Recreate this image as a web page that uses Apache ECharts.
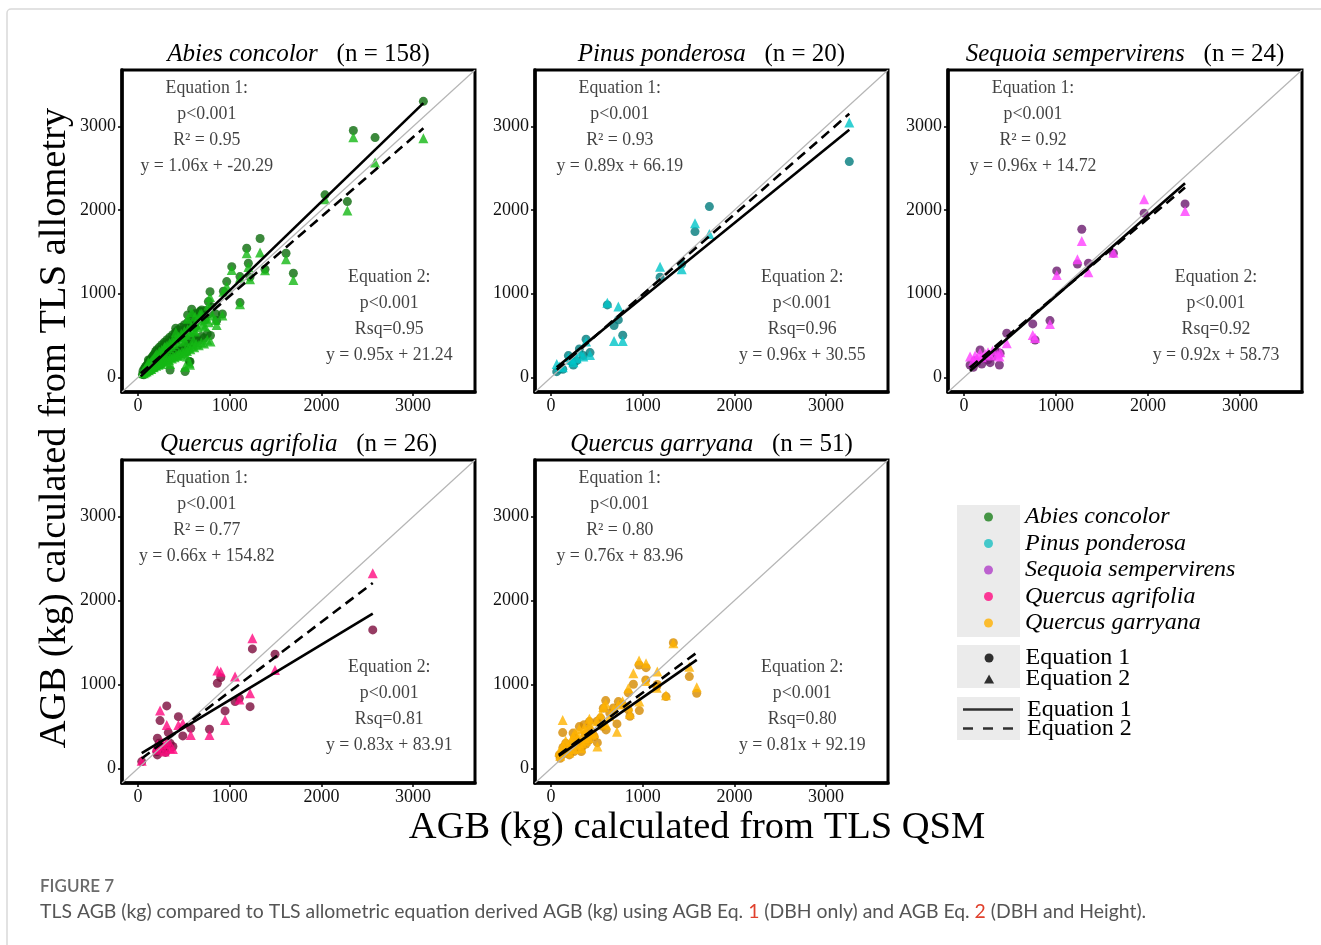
<!DOCTYPE html>
<html>
<head>
<meta charset="utf-8">
<script src="https://cdn.jsdelivr.net/npm/echarts@6/dist/echarts.min.js"></script>
<style>
html, body { margin: 0; padding: 0; background: #fff; }
#chart { width: 1321px; height: 945px; }
</style>
</head>
<body>
<div id="chart"></div>
<script>
// ---- data ----
const speciesNames = ['Abies concolor', 'Pinus ponderosa', 'Sequoia sempervirens', 'Quercus agrifolia', 'Quercus garryana'];
const sampleSizes = [158, 20, 24, 26, 51];
const tickValues = [0, 1000, 2000, 3000];
const axisRange = [-175, 3675];
const identityLine = [[-175, -175], [3675, 3675]];

// per species: QSM AGB (x), Eq.1 AGB (circles), Eq.2 AGB (triangles)
const abiesQsm = [3112, 2348, 2585, 2039, 2283, 1614, 1694, 1331, 1185, 1203, 1385, 1022, 1112, 1221, 967, 785, 931, 1112, 767, 585,
  541, 694, 676, 847, 920, 858, 622, 731, 411, 622, 513, 603, 294, 531, 440, 567, 513, 560, 349, 113,
  48, 55, 63, 71, 78, 84, 92, 97, 105, 112, 118, 126, 131, 139, 144, 152, 158, 165, 171, 178,
  184, 192, 198, 205, 211, 219, 224, 232, 238, 246, 252, 259, 266, 273, 279, 287, 294, 301, 308, 316,
  323, 331, 338, 346, 353, 361, 369, 377, 384, 392, 399, 408, 416, 424, 431, 440, 447, 455, 463, 472,
  480, 489, 497, 506, 515, 524, 533, 542, 552, 561, 571, 580, 591, 602, 613, 625, 637, 650, 662, 676,
  690, 705, 720, 738, 755, 772, 790, 810];
const abiesEq1 = [3300, 2951, 2867, 2182, 2102, 1484, 1245, 1660, 1544, 1365, 1293, 1324, 1205, 1200, 1145, 1025, 1030, 894, 906, 815,
  747, 806, 790, 758, 758, 680, 760, 687, 587, 600, 468, 480, 400, 307, 300, 188, 70, 190, 88, 208,
  35, 80, 30, 110, 50, 130, 60, 150, 85, 175, 70, 200, 100, 215, 90, 240, 120, 260, 110, 280,
  150, 310, 130, 330, 175, 290, 150, 360, 190, 320, 160, 390, 210, 350, 190, 420, 230, 380, 210, 450,
  250, 410, 230, 480, 270, 440, 250, 510, 290, 470, 270, 540, 310, 500, 290, 570, 330, 520, 310, 600,
  350, 560, 330, 630, 380, 590, 360, 660, 400, 620, 380, 700, 430, 650, 410, 730, 460, 690, 440, 780,
  490, 720, 470, 800, 520, 760, 500, 840];
const abiesEq2 = [2860, 2872, 2568, 2130, 1994, 1413, 1165, 1492, 1484, 1320, 1280, 1284, 1190, 1173, 1085, 960, 1025, 873, 860, 780,
  700, 760, 758, 687, 740, 627, 727, 607, 540, 547, 430, 447, 367, 248, 268, 150, 128, 176, 160, 180,
  55, 75, 50, 100, 60, 115, 70, 130, 90, 150, 85, 170, 105, 185, 100, 205, 125, 220, 120, 240,
  150, 265, 140, 280, 170, 250, 150, 310, 185, 280, 160, 330, 200, 300, 180, 360, 215, 320, 195, 380,
  220, 350, 205, 410, 240, 375, 225, 440, 255, 400, 240, 460, 270, 425, 255, 490, 290, 450, 275, 520,
  305, 480, 290, 550, 330, 510, 315, 575, 350, 540, 335, 610, 375, 565, 360, 640, 400, 600, 385, 680,
  420, 630, 405, 700, 450, 660, 430, 740];

const pinusQsm = [3253, 1727, 1570, 1425, 1189, 614, 734, 687, 782, 382, 425, 352, 309, 189, 243, 128, 62, 280, 90, 220];
const pinusEq1 = [2580, 2042, 1743, 1356, 1197, 866, 687, 619, 503, 456, 296, 260, 340, 260, 148, 97, 68, 200, 100, 190];
const pinusEq2 = [3047, 1715, 1843, 1293, 1324, 893, 846, 435, 435, 430, 268, 250, 310, 240, 180, 120, 160, 230, 130, 210];

const sequoiaQsm = [2403, 1958, 1280, 1233, 1352, 1008, 1624, 934, 747, 772, 464, 392, 384, 283, 174, 192, 65, 120, 230, 310, 140, 360, 260, 100];
const sequoiaEq1 = [2074, 1963, 1771, 1356, 1365, 1273, 1484, 679, 639, 447, 527, 288, 148, 176, 328, 160, 148, 200, 230, 250, 180, 300, 210, 120];
const sequoiaEq2 = [1990, 2130, 1631, 1413, 1257, 1225, 1490, 639, 507, 470, 408, 300, 250, 260, 290, 240, 248, 260, 280, 320, 230, 270, 300, 200];

const agrifoliaQsm = [2560, 1247, 1494, 865, 902, 1058, 1105, 1222, 949, 779, 575, 488, 440, 313, 240, 330, 211, 349, 204, 211, 40, 260, 290, 380, 230, 300];
const agrifoliaEq1 = [1650, 1423, 1360, 1014, 1081, 795, 835, 735, 684, 466, 478, 386, 616, 744, 569, 426, 359, 299, 199, 160, 80, 260, 230, 260, 300, 190];
const agrifoliaEq2 = [2325, 1551, 1173, 1165, 1150, 1093, 820, 895, 577, 398, 398, 537, 517, 517, 688, 330, 280, 240, 250, 220, 90, 310, 200, 230, 260, 290];

const garryanaQsm = [1334, 960, 1036, 898, 1159, 1033, 843, 1508, 1589, 1254, 1152, 963, 843, 734, 596, 570, 719, 600, 418, 127,
  309, 505, 420, 360, 470, 540, 640, 680, 780, 860, 500, 300, 340, 260, 380, 220, 180, 150, 100, 90,
  130, 200, 250, 280, 330, 410, 450, 370, 240, 160, 560];
const garryanaEq1 = [1498, 1232, 1200, 1002, 1000, 1054, 900, 1093, 894, 855, 974, 688, 696, 795, 807, 716, 529, 458, 557, 426,
  497, 306, 460, 520, 380, 600, 660, 720, 760, 620, 560, 320, 260, 360, 290, 280, 230, 180, 120, 160,
  250, 160, 200, 250, 200, 330, 420, 400, 420, 300, 500];
const garryanaEq2 = [1490, 1284, 1252, 1133, 1153, 1040, 955, 1212, 967, 870, 960, 795, 740, 760, 770, 730, 437, 520, 590, 577,
  470, 259, 520, 480, 420, 640, 620, 700, 800, 650, 560, 380, 300, 420, 330, 330, 260, 220, 150, 200,
  270, 190, 230, 280, 240, 360, 400, 440, 380, 330, 540];

// fitted lines, end points
const fitEq1 = [
  [[30, 12], [3112, 3279]],
  [[62, 121], [3253, 2961]],
  [[65, 77], [2403, 2322]],
  [[40, 181], [2560, 1845]],
  [[85, 149], [1589, 1292]]
];
const fitEq2 = [
  [[30, 50], [3112, 2978]],
  [[62, 90], [3253, 3153]],
  [[65, 118], [2403, 2270]],
  [[40, 117], [2560, 2209]],
  [[85, 161], [1589, 1379]]
];

const eq1Labels = [
  ['Equation 1:', 'p<0.001', 'R² = 0.95', 'y = 1.06x + -20.29'],
  ['Equation 1:', 'p<0.001', 'R² = 0.93', 'y = 0.89x + 66.19'],
  ['Equation 1:', 'p<0.001', 'R² = 0.92', 'y = 0.96x + 14.72'],
  ['Equation 1:', 'p<0.001', 'R² = 0.77', 'y = 0.66x + 154.82'],
  ['Equation 1:', 'p<0.001', 'R² = 0.80', 'y = 0.76x + 83.96']
];
const eq2Labels = [
  ['Equation 2:', 'p<0.001', 'Rsq=0.95', 'y = 0.95x + 21.24'],
  ['Equation 2:', 'p<0.001', 'Rsq=0.96', 'y = 0.96x + 30.55'],
  ['Equation 2:', 'p<0.001', 'Rsq=0.92', 'y = 0.92x + 58.73'],
  ['Equation 2:', 'p<0.001', 'Rsq=0.81', 'y = 0.83x + 83.91'],
  ['Equation 2:', 'p<0.001', 'Rsq=0.80', 'y = 0.81x + 92.19']
];
const eq1LabelAt = [750, 2995];
const eq2LabelAt = [2740, 735];

// ---- styling ----
const serif = "'Liberation Serif', 'DejaVu Serif', serif";
const captionFont = "Lato, 'Noto Sans', sans-serif";
const circleColors = ['#0b6b0b', '#007a7c', '#6a1a6e', '#7c0b3c', '#d48a00'];
const triangleColors = ['#14b814', '#00c4c8', '#ff40ff', '#ff0a80', '#ffb300'];
const legendColors = ['#1b7f1b', '#1abfc2', '#b03ec8', '#ff0a80', '#ffb000'];
const circleIcon = 'path://M0,4.5A4.5,4.5 0 1,0 9,4.5A4.5,4.5 0 1,0 0,4.5Z';
const triangleIcon = 'path://M4.5,0L9,8H0Z';
const panels = [
  { left: 122, top: 70, width: 353, height: 322 },
  { left: 535, top: 70, width: 353, height: 322 },
  { left: 948, top: 70, width: 354, height: 322 },
  { left: 122, top: 460, width: 353, height: 323 },
  { left: 535, top: 460, width: 353, height: 323 }
];
const pointSets = [
  [abiesQsm, abiesEq1, abiesEq2],
  [pinusQsm, pinusEq1, pinusEq2],
  [sequoiaQsm, sequoiaEq1, sequoiaEq2],
  [agrifoliaQsm, agrifoliaEq1, agrifoliaEq2],
  [garryanaQsm, garryanaEq1, garryanaEq2]
];

const zip = (xs, ys) => xs.map((x, i) => [x, ys[i]]);

const makeAxis = (i, isX) => ({
  type: 'value',
  gridIndex: i,
  min: axisRange[0],
  max: axisRange[1],
  splitLine: { show: false },
  axisLine: { show: true, onZero: false, lineStyle: { color: '#000', width: 3.5 } },
  axisTick: { show: true, length: 4, customValues: tickValues, lineStyle: { color: '#000', width: 1.5 } },
  axisLabel: {
    customValues: tickValues,
    formatter: v => String(v),
    fontFamily: serif,
    fontSize: 18,
    color: '#111',
    margin: isX ? 5 : 6
  }
});

const series = [];
panels.forEach((p, i) => {
  const [qsm, eq1, eq2] = pointSets[i];
  const axes = { xAxisIndex: i, yAxisIndex: i };
  series.push({
    type: 'line', ...axes, data: identityLine, symbol: 'none', silent: true,
    lineStyle: { color: '#b5b5b5', width: 1.2 }
  });
  series.push({
    type: 'scatter', ...axes, data: zip(qsm, eq1), symbol: 'circle', symbolSize: 9,
    itemStyle: { color: circleColors[i] }
  });
  series.push({
    type: 'scatter', ...axes, data: zip(qsm, eq2), symbol: 'triangle', symbolSize: 10,
    itemStyle: { color: triangleColors[i] }
  });
  series.push({
    type: 'line', ...axes, data: fitEq1[i], symbol: 'none',
    lineStyle: { color: '#000', width: 2.6 }
  });
  series.push({
    type: 'line', ...axes, data: fitEq2[i], symbol: 'none',
    lineStyle: { color: '#000', width: 2.6, type: [10, 6] }
  });
  series.push({
    type: 'scatter', ...axes, symbolSize: 0, silent: true,
    itemStyle: { color: 'transparent' },
    label: {
      show: true, position: 'inside', fontFamily: serif, fontSize: 17.8,
      lineHeight: 26, color: '#111', align: 'center'
    },
    data: [
      { value: eq1LabelAt, label: { formatter: eq1Labels[i].join('\n') } },
      { value: eq2LabelAt, label: { formatter: eq2Labels[i].join('\n') } }
    ]
  });
});

// empty series that only feed the legends
speciesNames.forEach((name, i) => {
  series.push({ type: 'scatter', name, data: [], itemStyle: { color: legendColors[i] } });
});
series.push({ type: 'scatter', name: 'Equation 1', data: [], itemStyle: { color: '#000' } });
series.push({ type: 'scatter', name: 'Equation 2', data: [], itemStyle: { color: '#000' } });

// the legend box is aligned on its visible content, so a centred 9px icon in a
// 63px slot starts 27px in: anchor at 957 + 27
const legendBase = {
  orient: 'vertical',
  left: 984,
  padding: 0,
  itemWidth: 63,
  itemHeight: 9,
  selectedMode: false
};

const option = {
  animation: false,
  backgroundColor: '#fff',
  title: panels.map((p, i) => ({
    text: `{sp|${speciesNames[i]}}{n|   (n = ${sampleSizes[i]})}`,
    left: p.left + p.width / 2,
    top: i >= 3 ? 444 : 54,
    textAlign: 'center',
    textVerticalAlign: 'middle',
    padding: 0,
    textStyle: {
      fontWeight: 'normal',
      rich: {
        sp: { fontFamily: serif, fontStyle: 'italic', fontWeight: 'normal', fontSize: 25, color: '#000' },
        n: { fontFamily: serif, fontWeight: 'normal', fontSize: 25, color: '#000' }
      }
    }
  })),
  grid: panels.map(p => ({ ...p, show: true, borderColor: '#000', borderWidth: 3, backgroundColor: '#fff' })),
  xAxis: panels.map((p, i) => makeAxis(i, true)),
  yAxis: panels.map((p, i) => makeAxis(i, false)),
  legend: [
    {
      ...legendBase,
      top: 504,
      itemGap: 0.5,
      data: speciesNames.map(name => ({ name, icon: circleIcon })),
      textStyle: { fontFamily: serif, fontStyle: 'italic', fontSize: 24, lineHeight: 26, color: '#000' }
    },
    {
      ...legendBase,
      top: 646,
      itemGap: -3,
      data: [
        { name: 'Equation 1', icon: circleIcon, itemStyle: { color: '#000' } },
        { name: 'Equation 2', icon: triangleIcon, itemStyle: { color: '#000' } }
      ],
      textStyle: { fontFamily: serif, fontSize: 24, lineHeight: 21, color: '#000' }
    },
    {
      ...legendBase,
      left: 963,
      top: 697.5,
      itemWidth: 50,
      itemHeight: 3,
      itemGap: -5,
      data: [
        { name: 'Equation 1', icon: 'path://M0,0H50V2.5H0Z', itemStyle: { color: '#000' } },
        { name: 'Equation 2', icon: 'path://M0,0H10V2.5H0ZM20,0H30V2.5H20ZM40,0H50V2.5H40Z', itemStyle: { color: '#000' } }
      ],
      textStyle: { fontFamily: serif, fontSize: 24, lineHeight: 21, color: '#000', padding: [0, 0, 0, 9] }
    }
  ],
  graphic: [
    {
      type: 'rect', z: -10, silent: true,
      shape: { x: 7, y: 9, width: 1360, height: 990, r: 4 },
      style: { fill: 'none', stroke: '#d9d9d9', lineWidth: 1.5 }
    },
    { type: 'rect', z: -1, silent: true, shape: { x: 957, y: 505, width: 63, height: 132 }, style: { fill: '#ebebeb' } },
    { type: 'rect', z: -1, silent: true, shape: { x: 957, y: 645, width: 63, height: 43 }, style: { fill: '#ebebeb' } },
    { type: 'rect', z: -1, silent: true, shape: { x: 957, y: 697, width: 63, height: 43 }, style: { fill: '#ebebeb' } },
    {
      type: 'text', silent: true, x: 55, y: 428, rotation: Math.PI / 2,
      style: {
        text: 'AGB (kg) calculated from TLS allometry', font: `38.5px ${serif}`,
        fill: '#000', align: 'center', verticalAlign: 'middle'
      }
    },
    {
      type: 'text', silent: true, x: 697, y: 828,
      style: {
        text: 'AGB (kg) calculated from TLS QSM', font: `38.5px ${serif}`,
        fill: '#000', align: 'center', verticalAlign: 'middle'
      }
    },
    {
      type: 'text', silent: true, x: 40, y: 887,
      style: {
        text: 'FIGURE 7', font: `600 17px 'Liberation Sans Narrow', ${captionFont}`,
        fill: '#6b6b6b', verticalAlign: 'middle'
      }
    },
    {
      type: 'text', silent: true, x: 40, y: 912,
      style: {
        text: 'TLS AGB (kg) compared to TLS allometric equation derived AGB (kg) using AGB Eq. {r|1} (DBH only) and AGB Eq. {r|2} (DBH and Height).',
        font: `19.4px ${captionFont}`,
        fill: '#555', verticalAlign: 'middle',
        rich: { r: { fill: '#e0412d', font: `19.4px ${captionFont}` } }
      }
    }
  ],
  series
};

const chart = echarts.init(document.getElementById('chart'), null, { renderer: 'canvas' });
chart.setOption(option);
window.addEventListener('resize', () => chart.resize());
</script>
</body>
</html>
